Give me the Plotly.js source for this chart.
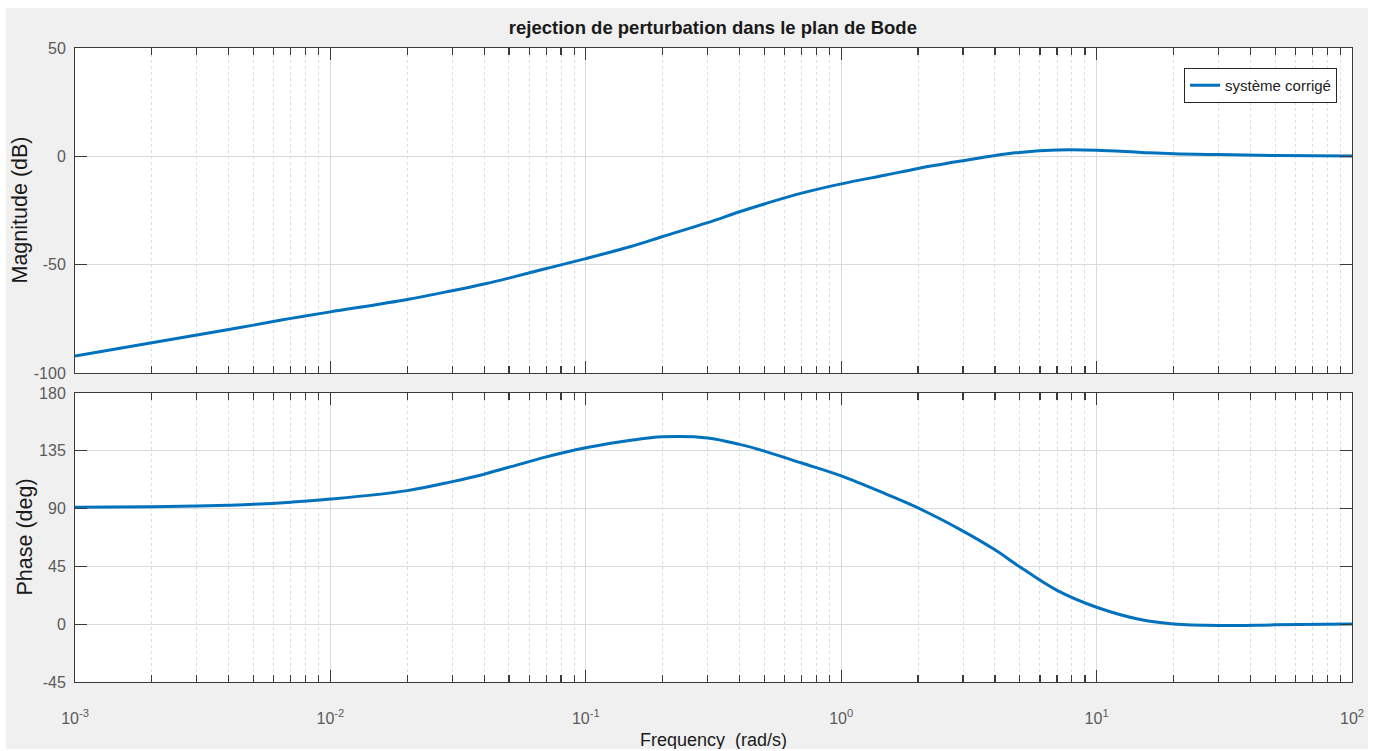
<!DOCTYPE html>
<html>
<head>
<meta charset="utf-8">
<script src="https://cdn.plot.ly/plotly-3.0.1.min.js"></script>
<style>
  html, body { margin: 0; padding: 0; background: #ffffff; width: 1381px; height: 751px; overflow: hidden; }
  #chart { position: absolute; left: 6px; top: 8px; width: 1362px; height: 741px; }
</style>
</head>
<body>
<div id="chart"></div>
<script>
// ---- data ----
const chartTitle = 'rejection de perturbation dans le plan de Bode';
const seriesName = 'système corrigé';
const freq = [0.001, 0.002, 0.003, 0.004, 0.005, 0.007, 0.01, 0.02, 0.03, 0.04, 0.05, 0.07,
              0.1, 0.15, 0.2, 0.3, 0.4, 0.5, 0.7, 1, 1.5, 2, 3, 4, 5, 7, 10, 15, 20, 30, 50, 100];
const magnitudeDb = [-92.2, -86.0, -82.5, -79.9, -77.9, -74.8, -71.8, -66.1, -62.0, -58.9, -56.2, -51.8,
                     -47.2, -41.6, -37.0, -30.6, -25.6, -22.0, -17.0, -12.7, -8.6, -5.6, -2.0, 0.4, 1.8, 2.9,
                     2.8, 1.8, 1.2, 0.8, 0.4, 0.2];
const phaseDeg = [91.0, 91.5, 92.0, 92.6, 93.3, 95.0, 97.4, 104.0, 111.0, 116.8, 122.2, 130.3,
                  137.4, 143.2, 145.9, 145.0, 140.0, 134.8, 125.5, 115.5, 101.3, 90.5, 72.5, 57.9, 44.7, 26.3,
                  13.2, 3.4, 0.2, -1.0, -0.5, 0.2];
const decadeTicks = [0.001, 0.01, 0.1, 1, 10, 100];
const decadeLabels = ['10<sup>-3</sup>', '10<sup>-2</sup>', '10<sup>-1</sup>', '10<sup>0</sup>', '10<sup>1</sup>', '10<sup>2</sup>'];
const magTicks = [-100, -50, 0, 50];
const magTickText = ['-100', '-50', '0', '50'];
const phaseTicks = [-45, 0, 45, 90, 135, 180];
const phaseTickText = ['-45', '0', '45', '90', '135', '180'];
const magLabel = 'Magnitude (dB)';
const phaseLabel = 'Phase (deg)';
const freqLabel = 'Frequency  (rad/s)';

// minor tick positions 2..9 within each decade
const minorTicks = [];
for (let d = 0; d < decadeTicks.length - 1; d++) {
  for (let k = 2; k <= 9; k++) minorTicks.push(decadeTicks[d] * k);
}

const blue = '#0072BD';
const axisCol = '#3a3a3a';
const tickFontCol = '#5a5a5a';
const FONT = 'Liberation Sans, Arial, sans-serif';

const traces = [
  { x: freq, y: magnitudeDb, type: 'scatter', mode: 'lines', name: seriesName,
    line: { color: blue, width: 3, shape: 'spline', smoothing: 1.0 }, xaxis: 'x', yaxis: 'y', showlegend: true },
  { x: freq, y: phaseDeg, type: 'scatter', mode: 'lines', name: seriesName,
    line: { color: blue, width: 3, shape: 'spline', smoothing: 1.0 }, xaxis: 'x2', yaxis: 'y2', showlegend: false }
];

function xAxis(showLabels, anchor) {
  return {
    type: 'log', range: [-3, 2], anchor: anchor,
    tickmode: 'array', tickvals: decadeTicks, ticktext: decadeLabels,
    showticklabels: showLabels, ticks: 'inside', ticklen: 12, tickcolor: axisCol, tickwidth: 1.2,
    showline: true, linecolor: axisCol, linewidth: 1, mirror: 'ticks',
    showgrid: true, gridcolor: '#dadada', gridwidth: 1, zeroline: false,
    tickfont: { family: FONT, size: 16, color: tickFontCol },
    ticklabelstandoff: 22,
    minor: { tickmode: 'array', tickvals: minorTicks, ticks: 'inside', ticklen: 7, tickcolor: axisCol, tickwidth: 1.2,
             showgrid: true, gridcolor: '#dcdcdc', griddash: 'dot', gridwidth: 1 }
  };
}
function yAxis(range, ticks, text, domain, anchor) {
  return {
    range: range, domain: domain, anchor: anchor,
    tickmode: 'array', tickvals: ticks, ticktext: text,
    ticks: 'inside', ticklen: 12, tickcolor: axisCol, tickwidth: 1.2,
    showline: true, linecolor: axisCol, linewidth: 1, mirror: 'ticks',
    showgrid: true, gridcolor: '#dadada', gridwidth: 1, zeroline: false,
    tickfont: { family: FONT, size: 16, color: tickFontCol },
    ticklabelstandoff: 5
  };
}

const layout = {
  width: 1362, height: 741,
  margin: { l: 69, r: 16, t: 40, b: 67 },
  paper_bgcolor: '#f0f0f0', plot_bgcolor: '#ffffff',
  font: { family: FONT, color: '#222222' },
  title: { text: '<b>' + chartTitle + '</b>', x: 0.519, xanchor: 'center', y: 0.974, yanchor: 'middle', yref: 'container',
           font: { family: FONT, size: 18.5, color: '#1a1a1a' } },
  xaxis: Object.assign(xAxis(false, 'y'), { domain: [0, 1] }),
  yaxis: yAxis([-100, 50], magTicks, magTickText, [0.4874, 1], 'x'),
  xaxis2: Object.assign(xAxis(true, 'y2'), { domain: [0, 1] }),
  yaxis2: yAxis([-45, 180], phaseTicks, phaseTickText, [0, 0.4558], 'x2'),
  showlegend: true,
  legend: { x: 0.9883, xanchor: 'right', y: 0.9685, yanchor: 'top', bgcolor: '#ffffff',
            bordercolor: '#262626', borderwidth: 1, font: { family: FONT, size: 15, color: '#222222' },
            tracegroupgap: 0 },
  annotations: [
    { text: magLabel, xref: 'paper', yref: 'y domain', x: 0, y: 0.5, xanchor: 'center', yanchor: 'middle',
      xshift: -55, textangle: -90, showarrow: false, font: { family: FONT, size: 21.5, color: '#1a1a1a' } },
    { text: phaseLabel, xref: 'paper', yref: 'y2 domain', x: 0, y: 0.5, xanchor: 'center', yanchor: 'middle',
      xshift: -50, textangle: -90, showarrow: false, font: { family: FONT, size: 21.5, color: '#1a1a1a' } },
    { text: freqLabel, xref: 'paper', yref: 'paper', x: 0.5, y: 0, xanchor: 'center', yanchor: 'middle',
      yshift: -58, showarrow: false, font: { family: FONT, size: 18, color: '#1a1a1a' } }
  ]
};

Plotly.newPlot('chart', traces, layout, { displayModeBar: false, staticPlot: true });
</script>
</body>
</html>
